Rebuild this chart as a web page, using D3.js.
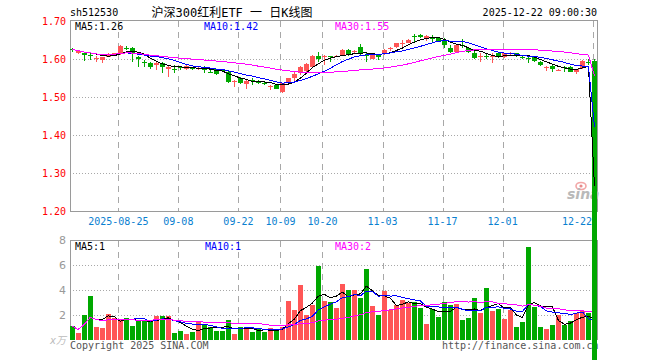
<!DOCTYPE html>
<html>
<head>
<meta charset="utf-8">
<script src="https://cdn.jsdelivr.net/npm/d3@7"></script>
<style>
  body { margin: 0; background: #fff; }
  svg text { font-family: "DejaVu Sans Mono", monospace; font-size: 10px; }
</style>
</head>
<body>
<script>
// trading days shown, 2025-08-13 .. 2025-12-22
var days = [
  "08-13","08-14","08-15","08-18","08-19","08-20","08-21","08-22","08-25","08-26","08-27","08-28","08-29",
  "09-01","09-02","09-03","09-04","09-05","09-08","09-09","09-10","09-11","09-12","09-15","09-16","09-17",
  "09-18","09-19","09-22","09-23","09-24","09-25","09-26","09-29","09-30",
  "10-09","10-10","10-13","10-14","10-15","10-16","10-17","10-20","10-21","10-22","10-23","10-24","10-27",
  "10-28","10-29","10-30","10-31",
  "11-03","11-04","11-05","11-06","11-07","11-10","11-11","11-12","11-13","11-14","11-17","11-18","11-19",
  "11-20","11-21","11-24","11-25","11-26","11-27","11-28",
  "12-01","12-02","12-03","12-04","12-05","12-08","12-09","12-10","12-11","12-12","12-15","12-16","12-17",
  "12-18","12-19","12-22"
];

var open = [1.626,1.617,1.617,1.611,1.601,1.597,1.606,1.610,1.612,1.630,
  1.628,1.604,1.591,1.589,1.583,1.589,1.573,1.574,1.578,1.573,
  1.577,1.575,1.577,1.567,1.573,1.571,1.567,1.542,1.549,1.534,
  1.546,1.543,1.537,1.527,1.532,1.514,1.536,1.549,1.562,1.569,
  1.580,1.609,1.604,1.607,1.607,1.611,1.624,1.619,1.632,1.611,
  1.601,1.611,1.613,1.627,1.632,1.642,1.643,1.661,1.663,1.652,
  1.656,1.654,1.648,1.630,1.619,1.637,1.628,1.615,1.607,1.608,
  1.607,1.615,1.604,1.614,1.615,1.605,1.602,1.606,1.593,1.577,
  1.582,1.571,1.578,1.580,1.565,1.577,1.591,1.596];
var high = [1.628,1.624,1.618,1.615,1.608,1.606,1.615,1.617,1.637,1.634,
  1.631,1.608,1.597,1.593,1.591,1.591,1.582,1.584,1.582,1.584,
  1.580,1.580,1.582,1.571,1.575,1.574,1.571,1.546,1.552,1.545,
  1.549,1.546,1.540,1.532,1.534,1.537,1.550,1.566,1.582,1.589,
  1.611,1.619,1.611,1.608,1.610,1.626,1.626,1.625,1.639,1.615,
  1.614,1.613,1.627,1.632,1.643,1.650,1.652,1.666,1.665,1.663,
  1.663,1.656,1.654,1.637,1.639,1.652,1.630,1.622,1.615,1.615,
  1.615,1.617,1.617,1.618,1.617,1.609,1.608,1.608,1.595,1.582,
  1.584,1.574,1.582,1.582,1.575,1.597,1.599,1.600];
var low = [1.619,1.613,1.596,1.597,1.593,1.589,1.604,1.608,1.611,1.624,
  1.593,1.580,1.580,1.575,1.571,1.564,1.553,1.564,1.572,1.570,
  1.571,1.571,1.562,1.562,1.558,1.566,1.538,1.527,1.534,1.520,
  1.532,1.535,1.532,1.518,1.520,1.511,1.535,1.536,1.558,1.567,
  1.578,1.593,1.584,1.593,1.604,1.609,1.609,1.613,1.611,1.593,
  1.599,1.597,1.611,1.622,1.630,1.632,1.641,1.641,1.655,1.648,
  1.643,1.646,1.628,1.615,1.615,1.628,1.617,1.599,1.593,1.599,
  1.590,1.602,1.602,1.611,1.605,1.600,1.589,1.592,1.582,1.569,
  1.567,1.569,1.567,1.565,1.560,1.575,1.584,0];
var close = [1.625,1.620,1.610,1.610,1.602,1.604,1.612,1.615,1.634,1.629,
  1.612,1.599,1.590,1.580,1.589,1.578,1.580,1.573,1.577,1.581,
  1.573,1.576,1.571,1.566,1.560,1.570,1.540,1.543,1.536,1.543,
  1.545,1.538,1.536,1.528,1.521,1.536,1.549,1.561,1.580,1.587,
  1.609,1.599,1.609,1.606,1.608,1.624,1.611,1.620,1.615,1.610,
  1.612,1.606,1.625,1.628,1.641,1.643,1.650,1.660,1.657,1.661,
  1.655,1.648,1.638,1.619,1.637,1.636,1.619,1.603,1.608,1.607,
  1.608,1.604,1.615,1.615,1.609,1.604,1.601,1.596,1.584,1.578,
  1.573,1.572,1.577,1.567,1.573,1.594,1.590,0];
var vol = [1.14,0.6,2.02,3.54,1.1,1.0,2.1,1.75,1.68,1.81,
  1.14,1.57,1.57,1.57,1.94,1.94,1.94,0.58,0.74,0.5,
  0.66,1.46,1.25,1.04,0.74,0.77,1.62,0.5,1.04,0.87,
  0.66,0.92,0.66,0.98,0.72,1.1,3.17,2.42,4.42,2.02,
  2.82,5.97,3.14,3.09,2.61,4.5,4.02,4.02,3.41,5.7,
  2.74,2.02,3.94,2.42,2.82,3.2,3.0,3.09,2.61,1.3,
  2.5,1.89,3.09,2.82,2.9,1.62,1.78,3.41,2.18,4.18,
  2.37,2.5,1.7,2.42,1.06,1.46,7.49,2.66,1.06,0.9,
  1.22,2.02,1.22,1.54,2.16,2.34,2.18,0.8];

var tickDays = ["08-25","09-08","09-22","10-09","10-20","11-03","11-17","12-01","12-22"];
var tickLabels = ["2025-08-25","09-08","09-22","10-09","10-20","11-03","11-17","12-01","12-22"];
var priceTicks = [1.2, 1.3, 1.4, 1.5, 1.6, 1.7];
var volTicks = [2, 4, 6, 8];
var priceMaText = ["MA5:1.26", "MA10:1.42", "MA30:1.55"];
var volMaText = ["MA5:1", "MA10:1", "MA30:2"];
var maColors = ["#000000", "#0000ff", "#ff00ff"];
var maSpans = [5, 10, 30];

var RED = "#ff5656", GREEN = "#00a800", GRID = "#a8a8a8", FRAME = "#9a9a9a";

var svg = d3.select('body').append('svg')
  .attr('width', 660).attr('height', 360)
  .style('shape-rendering', 'crispEdges');

var x = d3.scaleBand().domain(days).range([69.1, 597.5]);
var cx = function(d) { return x(d) + x.bandwidth() / 2; };
var yP = d3.scaleLinear().domain([1.2, 1.7]).range([211, 21]);
var yV = d3.scaleLinear().domain([0, 8]).range([340.3, 240.3]);

var isUp = function(i) { return close[i] >= open[i]; };

// moving average over what is available
var movAvg = function(arr, n) {
  return arr.map(function(v, i) {
    return d3.mean(arr.slice(Math.max(0, i - n + 1), i + 1));
  });
};

var lineOf = function(yScale) {
  return d3.line()
    .x(function(d, i) { return cx(days[i]); })
    .y(function(d) { return yScale(d); });
};

// ---------- volume panel ----------
var gv = svg.append('g');

gv.selectAll('.vgrid').data([2, 4, 6]).enter().append('line')
  .attr('x1', 70).attr('x2', 597)
  .attr('y1', function(d) { return Math.round(yV(d)) + 0.5; })
  .attr('y2', function(d) { return Math.round(yV(d)) + 0.5; })
  .attr('stroke', GRID).attr('stroke-dasharray', '1,2');

gv.selectAll('.vdash').data(tickDays).enter().append('line')
  .attr('x1', function(d) { return Math.round(x(d) + 1.2) + 0.5; })
  .attr('x2', function(d) { return Math.round(x(d) + 1.2) + 0.5; })
  .attr('y1', 241).attr('y2', 340)
  .attr('stroke', GRID).attr('stroke-dasharray', '6,5');

gv.append('path')
  .attr('d', 'M70.5,340V240.5H597.5V340')
  .attr('fill', 'none').attr('stroke', FRAME);

gv.selectAll('.vbar').data(vol).enter().append('rect')
  .attr('x', function(d, i) { return Math.round(cx(days[i]) - 2.5); })
  .attr('width', 5)
  .attr('y', function(d) { return yV(d); })
  .attr('height', function(d) { return yV(0) - yV(d); })
  .attr('fill', function(d, i) { return isUp(i) ? RED : GREEN; });

maSpans.forEach(function(n, k) {
  gv.append('path')
    .attr('d', lineOf(yV)(movAvg(vol, n)))
    .attr('fill', 'none').attr('stroke', maColors[k]).attr('stroke-width', 1);
});

gv.selectAll('.vtick').data(volTicks).enter().append('text')
  .attr('x', 66).attr('y', function(d) { return yV(d) + 4; })
  .attr('text-anchor', 'end').attr('fill', '#999')
  .style('font-family', 'DejaVu Sans, sans-serif').style('font-size', '11px')
  .text(function(d) { return d; });

gv.append('text').attr('x', 66).attr('y', 344).attr('text-anchor', 'end')
  .attr('fill', '#bbb').style('font-family', 'DejaVu Sans, Noto Sans CJK SC, sans-serif')
  .style('font-size', '10px').style('font-style', 'italic').text('x万');

[75, 205, 335].forEach(function(px, k) {
  gv.append('text').attr('x', px).attr('y', 250)
    .attr('fill', maColors[k]).text(volMaText[k]);
});

gv.append('text').attr('x', 70).attr('y', 349).attr('fill', '#555')
  .text('Copyright 2025 SINA.COM');
gv.append('text').attr('x', 442).attr('y', 349).attr('fill', '#555')
  .text('http://finance.sina.com.cn');

// ---------- price panel ----------
var gp = svg.append('g');

gp.selectAll('.pgrid').data([1.3, 1.4, 1.5, 1.6]).enter().append('line')
  .attr('x1', 70).attr('x2', 597)
  .attr('y1', function(d) { return Math.round(yP(d)) + 0.5; })
  .attr('y2', function(d) { return Math.round(yP(d)) + 0.5; })
  .attr('stroke', GRID).attr('stroke-dasharray', '1,2');

gp.selectAll('.pdash').data(tickDays).enter().append('line')
  .attr('x1', function(d) { return Math.round(x(d) + 1.2) + 0.5; })
  .attr('x2', function(d) { return Math.round(x(d) + 1.2) + 0.5; })
  .attr('y1', 21).attr('y2', 211)
  .attr('stroke', GRID).attr('stroke-dasharray', '6,5');

gp.append('path')
  .attr('d', 'M70.5,20.5V211.5H597.5V20.5Z')
  .attr('fill', 'none').attr('stroke', FRAME);

// sina watermark
var logo = gp.append('g').style('shape-rendering', 'auto');
logo.append('ellipse').attr('cx', 581).attr('cy', 186).attr('rx', 5).attr('ry', 3.5)
  .attr('fill', 'none').attr('stroke', '#f2a6a6').attr('stroke-width', 1.6);
logo.append('circle').attr('cx', 581).attr('cy', 186).attr('r', 1.6).attr('fill', '#e98a8a');
logo.append('text').attr('x', 567).attr('y', 199).attr('fill', '#b9b9b9')
  .style('font-family', 'DejaVu Sans, sans-serif').style('font-size', '14px')
  .style('font-weight', 'bold').style('font-style', 'italic').text('sina');

gp.selectAll('.ptick').data(priceTicks).enter().append('text')
  .attr('x', 66).attr('y', function(d) { return yP(d) + 3.5; })
  .attr('text-anchor', 'end').attr('fill', '#f00')
  .text(function(d) { return d.toFixed(2); });

// date labels, the last one kept inside the frame
gp.selectAll('.xlab').data(tickDays).enter().append('text')
  .attr('x', function(d, i) { return i === tickDays.length - 1 ? 592 : x(d) + 1.2; })
  .attr('y', 225)
  .attr('text-anchor', function(d, i) { return i === tickDays.length - 1 ? 'end' : 'middle'; })
  .attr('fill', '#0a80d0')
  .text(function(d, i) { return tickLabels[i]; });

[75, 204, 335].forEach(function(px, k) {
  gp.append('text').attr('x', px).attr('y', 30)
    .attr('fill', maColors[k]).text(priceMaText[k]);
});

// candles
var candles = gp.selectAll('.candle').data(days).enter().append('g');
candles.append('line')
  .attr('x1', function(d) { return Math.round(cx(d)) + 0.5; })
  .attr('x2', function(d) { return Math.round(cx(d)) + 0.5; })
  .attr('y1', function(d, i) { return yP(high[i]); })
  .attr('y2', function(d, i) { return yP(low[i]); })
  .attr('stroke', function(d, i) { return isUp(i) ? RED : GREEN; });
candles.append('rect')
  .attr('x', function(d) { return Math.round(cx(d) - 2.5); })
  .attr('width', 5)
  .attr('y', function(d, i) { return yP(Math.max(open[i], close[i])); })
  .attr('height', function(d, i) { return Math.max(1, Math.abs(yP(open[i]) - yP(close[i]))); })
  .attr('fill', function(d, i) { return isUp(i) ? RED : GREEN; });

maSpans.forEach(function(n, k) {
  gp.append('path')
    .attr('d', lineOf(yP)(movAvg(close, n)))
    .attr('fill', 'none').attr('stroke', maColors[k]).attr('stroke-width', 1);
});

// header
svg.append('text').attr('x', 70).attr('y', 16).attr('fill', '#000').text('sh512530');
svg.append('text').attr('x', 232).attr('y', 17).attr('text-anchor', 'middle').attr('fill', '#000')
  .style('font-family', 'DejaVu Sans Mono, Noto Sans CJK SC, monospace').style('font-size', '12px')
  .text('沪深300红利ETF 一 日K线图');
svg.append('text').attr('x', 597).attr('y', 16).attr('text-anchor', 'end').attr('fill', '#000')
  .text('2025-12-22 09:00:30');
</script>
</body>
</html>
